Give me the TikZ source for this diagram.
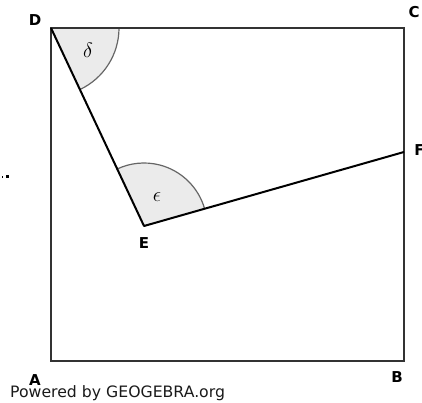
\documentclass[tikz,border=0pt]{standalone}
\usepackage{fontspec}
\usepackage{fix-cm}
\setsansfont{DejaVu Sans}
\usetikzlibrary{angles}
\definecolor{sqcol}{HTML}{333333}
\definecolor{arccol}{HTML}{666666}
\definecolor{sectfill}{HTML}{EBEBEB}
\definecolor{txtcol}{HTML}{1A1A1A}
\tikzset{
  square/.style={draw=sqcol, line width=2.2pt, line join=miter},
  seg/.style={draw=black, line width=2pt, line join=round},
  anglemark/.style={draw=arccol, fill=sectfill, line width=1.2pt},
  ptlabel/.style={inner sep=0pt, font=\sffamily\bfseries\fontsize{15}{15}\selectfont, text=black},
  anglabel/.style={inner sep=0pt, font=\huge},
  credit/.style={inner sep=0pt, anchor=base west, text=txtcol, font=\sffamily\fontsize{15.7}{16}\selectfont}
}
\begin{document}
\begin{tikzpicture}[x=1pt,y=1pt]
\useasboundingbox (0,0) rectangle (422,403);
\coordinate (A) at (51,42);
\coordinate (B) at (404,42);
\coordinate (C) at (404,375);
\coordinate (D) at (51,375);
\coordinate (E) at (144,177);
\coordinate (F) at (404,251);
% angle sectors
\pic[anglemark, angle radius=68pt] {angle=E--D--C};
\pic[anglemark, angle radius=63pt] {angle=F--E--D};
% square
\draw[square] (A) -- (B) -- (C) -- (D) -- cycle;
% segments
\draw[seg] (D) -- (E) -- (F);
% angle labels
\node[anglabel] (delta) at (88,353) {$\delta$};
\node[anglabel] (eps) at (157,206) {$\epsilon$};
% point labels
\node[ptlabel] (lD) at (35,383) {D};
\node[ptlabel] (lC) at (414,390.5) {C};
\node[ptlabel] (lF) at (419.5,253) {F};
\node[ptlabel] (lE) at (144,160) {E};
\node[ptlabel] (lA) at (35,23) {A};
\node[ptlabel] (lB) at (397,26) {B};
% credit
\node[credit] (cr) at (10,5.3) {Powered by GEOGEBRA.org};
% stray dots at left edge
\fill[black] (1.5,225) rectangle (3,226.5);
\fill[black] (5.5,224.5) rectangle (8.5,227.5);
\end{tikzpicture}
\end{document}
